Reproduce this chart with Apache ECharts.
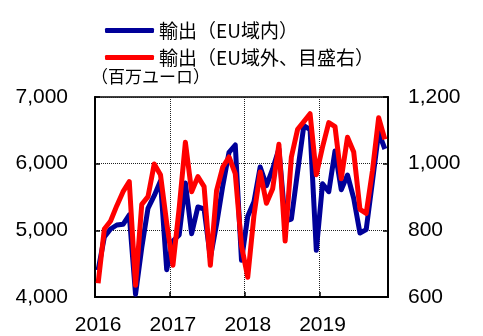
<!DOCTYPE html>
<html>
<head>
<meta charset="utf-8">
<script src="https://cdn.jsdelivr.net/npm/echarts@6/dist/echarts.min.js"></script>
<style>
  html, body { margin: 0; padding: 0; background: #fff; }
  #chart { width: 483px; height: 336px; }
</style>
</head>
<body>
<div id="chart"></div>
<script>
// Monthly exports, Jan 2016 – Nov 2019
const years = ['2016', '2017', '2018', '2019'];
const monthsInLastYear = 11;

// Exports within the EU (million euro, left axis)
const exportsIntraEU = [
  4400, 4900, 5020, 5080, 5090, 5230, 4040, 4740, 5330, 5520, 5740, 4410,
  4840, 4930, 5710, 4950, 5350, 5320, 4590, 5090, 5670, 6170, 6280, 4550,
  5210, 5430, 5950, 5670, 5920, 6220, 5140, 5170, 5880, 6570, 6510, 4700,
  5700, 5580, 6190, 5610, 5830, 5480, 4960, 5010, 5730, 6470, 6220
];

// Exports outside the EU (million euro, right axis)
const exportsExtraEU = [
  641, 804, 828, 874, 916, 946, 635, 878, 901, 999, 967, 822,
  695, 866, 1064, 916, 961, 931, 695, 919, 990, 1020, 970, 754,
  659, 845, 975, 881, 925, 1058, 768, 1020, 1103, 1126, 1150, 967,
  1050, 1123, 1111, 955, 1079, 1035, 863, 851, 978, 1138, 1073
];

const seriesNames = ['輸出（EU域内）', '輸出（EU域外、目盛右）'];
const unitLabel = '（百万ユーロ）';

// One category per month; the year label sits on each January
const months = [];
years.forEach((y, k) => {
  const n = k === years.length - 1 ? monthsInLastYear : 12;
  for (let m = 1; m <= n; m++) months.push(y + '-' + m);
});

const fmt = v => String(v).replace(/\B(?=(\d{3})+(?!\d))/g, ',');
const numFont = 'Liberation Sans, Arial, sans-serif';
const jpFont = 'Noto Sans CJK JP, sans-serif';

const chart = echarts.init(document.getElementById('chart'), null, { renderer: 'canvas' });
chart.setOption({
  animation: false,
  backgroundColor: '#fff',
  title: {
    text: unitLabel,
    left: 91, top: 68, padding: 0,
    textStyle: { fontFamily: jpFont, fontSize: 17, fontWeight: 'normal', color: '#000' }
  },
  legend: {
    orient: 'vertical',
    left: 105, top: 18, padding: 0,
    itemWidth: 49, itemHeight: 5, itemGap: 2,
    icon: 'roundRect',
    textStyle: { fontFamily: jpFont, fontSize: 19, color: '#000', lineHeight: 25 },
    data: seriesNames
  },
  grid: {
    left: 95, right: 95, top: 97, bottom: 36,
    show: true, borderColor: '#000', borderWidth: 1.5
  },
  xAxis: {
    type: 'category',
    data: months,
    boundaryGap: true,
    axisLine: { show: true, lineStyle: { color: '#000', width: 2 } },
    axisTick: {
      show: true, inside: true, length: 5,
      interval: (i) => i % 12 === 0 && i > 0,
      lineStyle: { color: '#000', width: 1.5 }
    },
    axisLabel: {
      interval: (i) => i % 12 === 0,
      formatter: (v) => v.split('-')[0],
      fontFamily: numFont, fontSize: 21, color: '#000', margin: 18
    },
    splitLine: {
      show: true,
      interval: (i) => i % 12 === 0 && i > 0,
      lineStyle: { color: '#222', width: 1, type: [1, 1] }
    }
  },
  yAxis: [
    {
      type: 'value', min: 4000, max: 7000, interval: 1000,
      axisLine: { show: true, lineStyle: { color: '#000', width: 2 } },
      axisTick: { show: true, inside: true, length: 5, lineStyle: { color: '#000', width: 1.5 } },
      axisLabel: { formatter: fmt, fontFamily: numFont, fontSize: 21, color: '#000', margin: 27 },
      splitLine: { show: true, lineStyle: { color: '#222', width: 1, type: [1, 1] } }
    },
    {
      type: 'value', min: 600, max: 1200, interval: 200,
      axisLine: { show: true, lineStyle: { color: '#000', width: 2 } },
      axisTick: { show: true, inside: true, length: 5, lineStyle: { color: '#000', width: 1.5 } },
      axisLabel: { formatter: fmt, fontFamily: numFont, fontSize: 21, color: '#000', margin: 20 },
      splitLine: { show: false }
    }
  ],
  series: [
    {
      name: seriesNames[0], type: 'line', yAxisIndex: 0,
      data: exportsIntraEU, symbol: 'none',
      lineStyle: { color: '#000099', width: 5, join: 'round' },
      itemStyle: { color: '#000099' }
    },
    {
      name: seriesNames[1], type: 'line', yAxisIndex: 1,
      data: exportsExtraEU, symbol: 'none',
      lineStyle: { color: '#ff0000', width: 5, join: 'round' },
      itemStyle: { color: '#ff0000' }
    }
  ]
});
</script>
</body>
</html>
